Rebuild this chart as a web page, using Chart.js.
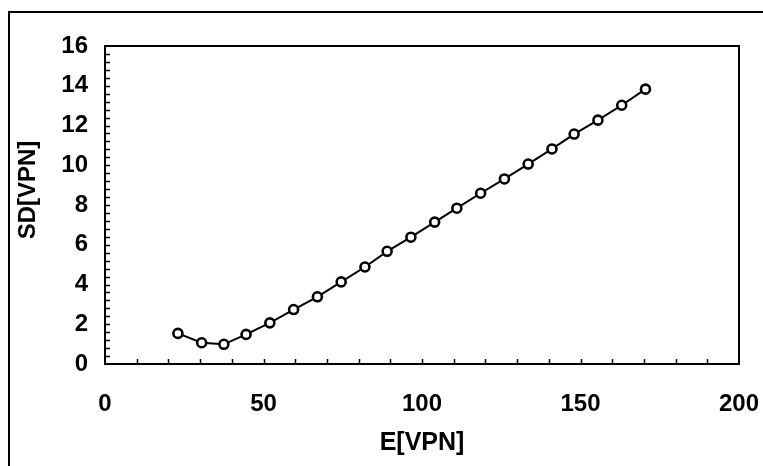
<!DOCTYPE html>
<html>
<head>
<meta charset="utf-8">
<script src="https://cdn.jsdelivr.net/npm/chart.js@4.4.1/dist/chart.umd.min.js"></script>
<style>
  body { margin: 0; background: #fff; }
  canvas { display: block; }
</style>
</head>
<body>
<canvas id="sdChart" width="763" height="466"></canvas>
<script>
// E vs SD
const eValues = [23, 30.5, 37.5, 44.5, 52, 59.5, 67, 74.5, 82, 89, 96.5, 104, 111, 118.5, 126, 133.5, 141, 148, 155.5, 163, 170.5];
const sdValues = [1.54, 1.07, 0.99, 1.49, 2.07, 2.74, 3.38, 4.13, 4.88, 5.67, 6.38, 7.14, 7.84, 8.59, 9.31, 10.06, 10.82, 11.57, 12.27, 13.02, 13.83];
const xTicks = [0, 50, 100, 150, 200];
const yTicks = [0, 2, 4, 6, 8, 10, 12, 14, 16];
const yTitle = 'SD[VPN]';

const points = eValues.map((e, i) => ({ x: e, y: sdValues[i] }));

// frame around plot, outer frame, y title and inward minor ticks (Excel style)
const framePlugin = {
  id: 'frame',
  beforeDraw(chart) {
    const ctx = chart.ctx;
    ctx.save();
    ctx.fillStyle = '#fff';
    ctx.fillRect(0, 0, chart.width, chart.height);
    ctx.strokeStyle = '#000';
    ctx.lineWidth = 2;
    ctx.beginPath();
    ctx.moveTo(9, chart.height);
    ctx.lineTo(9, 12);
    ctx.lineTo(chart.width, 12);
    ctx.stroke();
    // y axis title, sits a bit above the plot centre like the original
    ctx.translate(28, 190);
    ctx.rotate(-Math.PI / 2);
    ctx.fillStyle = '#000';
    ctx.font = 'bold 24px "Liberation Sans"';
    ctx.textAlign = 'center';
    ctx.textBaseline = 'middle';
    ctx.fillText(yTitle, 0, 0);
    ctx.restore();
  },
  afterDatasetsDraw(chart) {
    const { ctx, chartArea: a, scales } = chart;
    ctx.save();
    ctx.strokeStyle = '#000';
    ctx.lineWidth = 2;
    ctx.strokeRect(a.left, a.top, a.right - a.left, a.bottom - a.top);
    ctx.lineWidth = 1.5;
    ctx.beginPath();
    for (let v = 10; v < 200; v += 10) {
      const px = Math.round(scales.x.getPixelForValue(v)) + 0.5;
      ctx.moveTo(px, a.bottom);
      ctx.lineTo(px, a.bottom - 5);
    }
    for (let k = 1; k < 40; k++) {
      const py = Math.round(scales.y.getPixelForValue(k * 0.4)) + 0.5;
      ctx.moveTo(a.left, py);
      ctx.lineTo(a.left + 5, py);
    }
    ctx.stroke();
    ctx.restore();
  }
};

const tickFont = { family: 'Liberation Sans', size: 24, weight: 'bold' };
const titleFont = { family: 'Liberation Sans', size: 25, weight: 'bold' };

new Chart(document.getElementById('sdChart'), {
  type: 'scatter',
  data: {
    datasets: [{
      label: 'SD',
      data: points,
      showLine: true,
      borderColor: '#000',
      borderWidth: 2,
      tension: 0,
      pointRadius: 4.5,
      pointBorderWidth: 2.6,
      pointBackgroundColor: '#fff',
      pointBorderColor: '#000'
    }]
  },
  options: {
    responsive: false,
    animation: false,
    layout: { padding: { left: 0, top: 46, right: 0, bottom: 0 } },
    plugins: {
      legend: { display: false },
      tooltip: { enabled: false }
    },
    scales: {
      x: {
        type: 'linear',
        min: 0,
        max: 200,
        afterBuildTicks(scale) { scale.ticks = xTicks.map(v => ({ value: v })); },
        afterFit(scale) {
          scale.height = 102;
          scale.paddingLeft = 0;
          scale.paddingRight = 24;
        },
        grid: { display: false, drawTicks: false },
        border: { display: false },
        ticks: { color: '#000', font: tickFont, padding: 26, maxRotation: 0 },
        title: {
          display: true,
          text: 'E[VPN]',
          color: '#000',
          font: titleFont,
          padding: { top: 0, bottom: 8 }
        }
      },
      y: {
        type: 'linear',
        min: 0,
        max: 16,
        afterBuildTicks(scale) { scale.ticks = yTicks.map(v => ({ value: v })); },
        afterFit(scale) { scale.width = 105; },
        grid: { display: false, drawTicks: false },
        border: { display: false },
        ticks: { color: '#000', font: tickFont, padding: 17 },
        title: { display: false }
      }
    }
  },
  plugins: [framePlugin]
});
</script>
</body>
</html>
